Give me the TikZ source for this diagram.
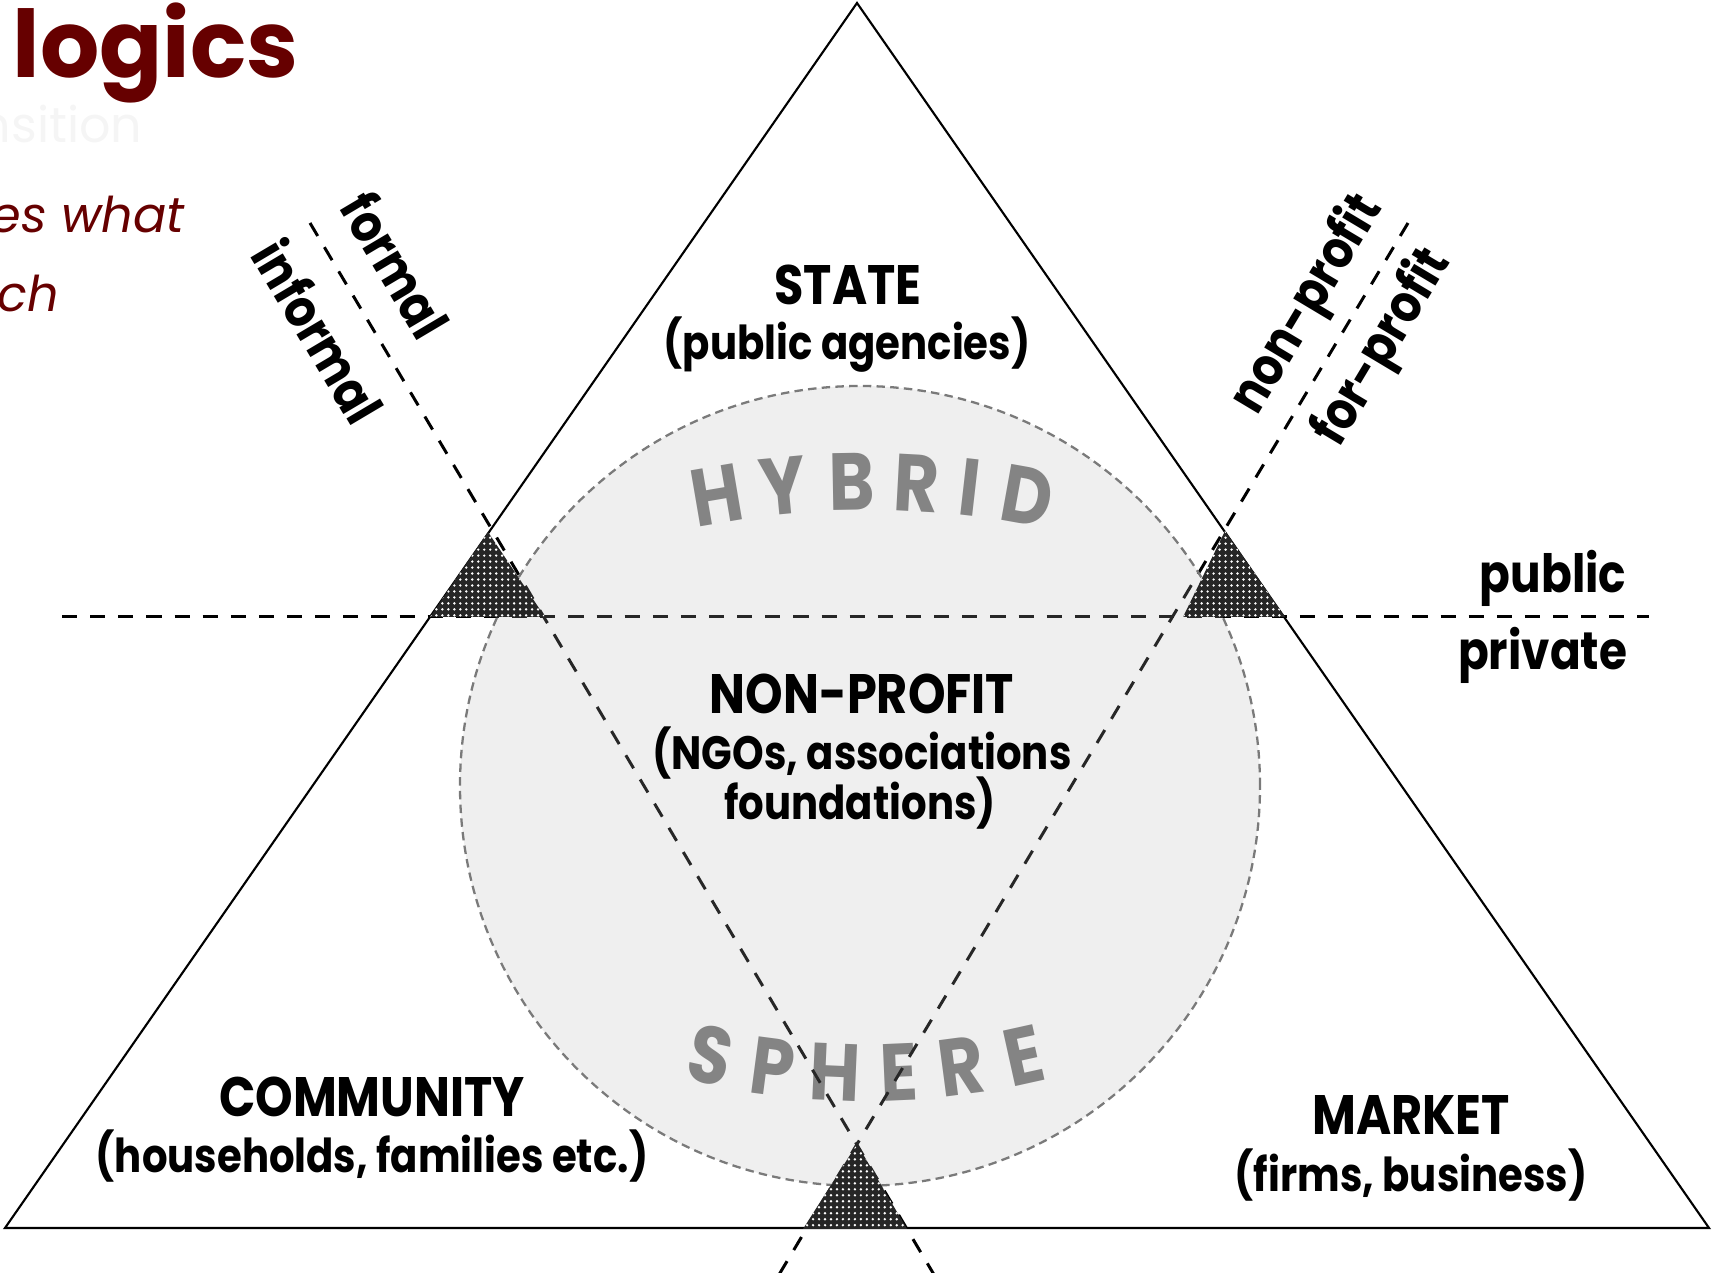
\documentclass[tikz,border=0pt]{standalone}
\usepackage{fontspec}
\setmainfont{Poppins}[FakeStretch=0.86]
\newfontfamily\slidefont{Poppins}
\usetikzlibrary{patterns.meta}
\definecolor{slidered}{HTML}{660000}
\definecolor{lettergray}{HTML}{777777}
\definecolor{spheregray}{HTML}{B6B6B6}

\begin{document}
\begin{tikzpicture}[x=0.01cm, y=0.01cm,
    dashline/.style={line width=0.85pt, dash pattern=on 4.3pt off 3.7pt},
    sector/.style={font=\fontsize{15.8}{18}\selectfont\bfseries, inner sep=0pt, anchor=base},
    sectorsub/.style={font=\fontsize{13.3}{15}\selectfont\bfseries, inner sep=0pt, anchor=base},
    axislabel/.style={font=\fontsize{15}{17}\selectfont\bfseries, inner sep=0pt},
    arcletter/.style={font=\fontsize{23}{25}\selectfont\bfseries, text=lettergray, inner sep=0pt},
    junction/.style={preaction={fill=black!85}, pattern={Dots[distance=1.7pt, radius=0.38pt]}, pattern color=white}]
  \useasboundingbox (0,0) rectangle (1712,1273);
  \clip (0,0) rectangle (1712,1273);

  % slide text left of the diagram
  \node[font=\slidefont\fontsize{26.5}{29}\selectfont\bfseries, text=slidered, anchor=base west, inner sep=0pt] (logics) at (12,1195) {logics};
  \node[font=\slidefont\fontsize{14}{16}\selectfont, text=black!4, anchor=base east, inner sep=0pt] (nsition) at (143,1130) {nsition};
  \node[font=\slidefont\fontsize{14}{16}\selectfont\itshape, text=slidered, anchor=base west, inner sep=0pt] (eswhat) at (-10,1040) {es what};
  \node[font=\slidefont\fontsize{14}{16}\selectfont\itshape, text=slidered, anchor=base east, inner sep=0pt] (ch) at (60,961) {ch};

  % main triangle
  \coordinate (top) at (857,1270);
  \coordinate (bl) at (5,45);
  \coordinate (br) at (1709,45);
  \draw[line width=0.6pt] (top) -- (bl) -- (br) -- cycle;

  % HYBRID / SPHERE round the circle
  \coordinate (hyb) at (868,-109);
  \foreach \letr/\ang in {H/99.7, Y/95.4, B/91.0, R/86.9, I/83.5, D/79.8}
    \node[arcletter, rotate=\ang-90] at ([shift={(\ang:900)}]hyb) {\letr};
  \coordinate (sph) at (867,925);
  \foreach \letr/\ang in {S/-12.5, P/-7.5, H/-2.5, E/2.5, R/7.5, E/12.5}
    \node[arcletter, rotate=\ang] at ([shift={({\ang-90}:725)}]sph) {\letr};

  % dividing lines
  \coordinate (hl) at (62,656);
  \coordinate (hr) at (1649,656);
  \coordinate (ftop) at (310,1050);
  \coordinate (fbot) at (936,-5);
  \coordinate (ptop) at (1408,1050);
  \coordinate (pbot) at (777,-5);
  \draw[dashline] (hl) -- (hr);
  \draw[dashline] (ftop) -- (fbot);
  \draw[dashline] (ptop) -- (pbot);

  % hybrid circle
  \coordinate (hc) at (860,487);
  \fill[spheregray, fill opacity=0.22] (hc) circle (400);
  \draw[black!52, line width=0.65pt, dash pattern=on 2.4pt off 1.5pt] (hc) circle (400);

  % crossing points
  \fill[junction] (488,741) -- (430,656) -- (545,656) -- cycle;
  \fill[junction] (1225,742) -- (1183,656) -- (1285,656) -- cycle;
  \fill[junction] (857,129) -- (803,44) -- (907,44) -- cycle;

  % sectors
  \node[sector] (state) at (848,968) {STATE};
  \node[sectorsub] (statesub) at (847,913) {(public agencies)};
  \node[sector] (nonprofit) at (862,559) {NON-PROFIT};
  \node[sectorsub] (npsub) at (862,503) {(NGOs, associations};
  \node[sectorsub] (npsub2) at (860,453) {foundations)};
  \node[sector] (community) at (372,156) {COMMUNITY};
  \node[sectorsub] (commsub) at (372,100) {(households, families etc.)};
  \node[sector] (market) at (1411,138) {MARKET};
  \node[sectorsub] (marketsub) at (1411,81) {(firms, business)};

  % axis labels
  \node[axislabel, anchor=base east] (public) at (1627,680) {public};
  \node[axislabel, anchor=base east] (private) at (1628,603) {private};
  \node[axislabel, rotate=-59.3] (formal) at (396,1008) {formal};
  \node[axislabel, rotate=-59.3] (informal) at (319,942) {informal};
  \node[axislabel, rotate=59.1] (nonprof) at (1308,968) {non-profit};
  \node[axislabel, rotate=59.1] (forprof) at (1383,925) {for-profit};
\end{tikzpicture}
\end{document}
